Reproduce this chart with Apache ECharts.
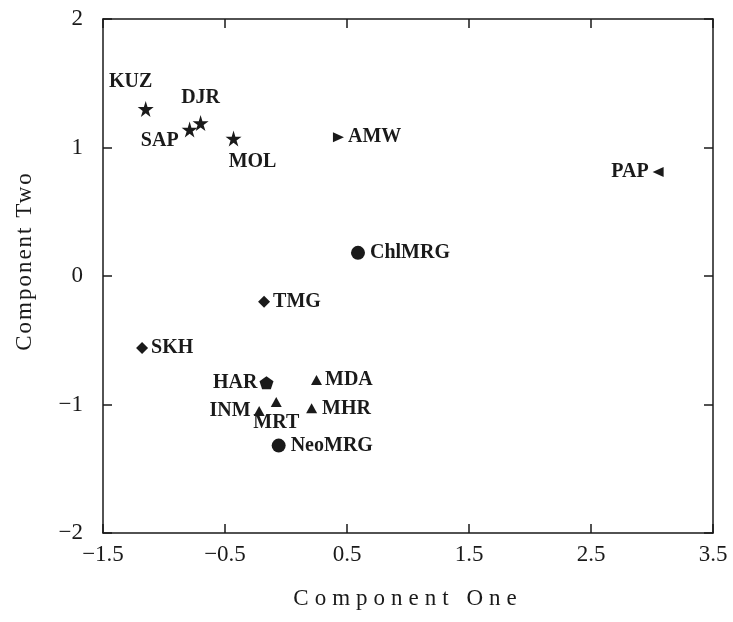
<!DOCTYPE html>
<html>
<head>
<meta charset="utf-8">
<script src="https://cdn.jsdelivr.net/npm/echarts@6/dist/echarts.min.js"></script>
<style>html,body{margin:0;padding:0;background:#fff}#c{width:733px;height:622px}</style>
</head>
<body>
<div id="c"></div>
<script>
// ---- data ----
var names  = ['KUZ','DJR','SAP','MOL','AMW','PAP','ChlMRG','TMG','SKH','HAR','MDA','INM','MRT','MHR','NeoMRG'];
var compOne = [-1.15,-0.70,-0.79,-0.43,0.43,3.05,0.59,-0.18,-1.18,-0.16,0.25,-0.22,-0.08,0.21,-0.06];
var compTwo = [1.30,1.19,1.14,1.07,1.08,0.81,0.18,-0.20,-0.56,-0.83,-0.81,-1.05,-0.98,-1.03,-1.32];
var groups  = ['star','star','star','star','triR','triL','circle','diamond','diamond','pentagon','triU','triU','triU','triU','circle'];
var xTicks = [-1.5,-0.5,0.5,1.5,2.5,3.5];
var yTicks = [-2,-1,0,1,2];
var xTitle = 'Component One';
var yTitle = 'Component Two';

// ---- styling: letter-spaced axis titles (spacing applied to canvas text drawing) ----
var spacing = {};
spacing[xTitle] = '6px';
spacing[yTitle] = '2px';
(function(){
  var P = CanvasRenderingContext2D.prototype, orig = P.fillText;
  P.fillText = function(t){
    var sp = Object.prototype.hasOwnProperty.call(spacing, t) ? spacing[t] : null;
    if (sp && 'letterSpacing' in this){
      this.save();
      this.letterSpacing = sp;
      var r = orig.apply(this, arguments);
      this.restore();
      return r;
    }
    return orig.apply(this, arguments);
  };
})();

var shapes = {
  star: {symbol:'path://M50,0 L61,35 L98,35 L68,57 L79,91 L50,70 L21,91 L32,57 L2,35 L39,35 Z', size:[16,16]},
  triR: {symbol:'path://M0,0 L100,50 L0,100 Z', size:[11,10]},
  triL: {symbol:'path://M100,0 L0,50 L100,100 Z', size:[11,10]},
  circle: {symbol:'circle', size:14},
  diamond: {symbol:'path://M50,0 L100,50 L50,100 L0,50 Z', size:[12,12]},
  pentagon: {symbol:'path://M50,0 L98,37 L80,95 L20,95 L2,37 Z', size:[14,13]},
  triU: {symbol:'path://M50,0 L100,100 L0,100 Z', size:[11,10]}
};
var labelPos = {
  KUZ:{position:'top',offset:[-15,-4]},
  DJR:{position:'top',offset:[0,-2]},
  SAP:{position:'left',offset:[2,11]},
  MOL:{position:'bottom',offset:[19,0]},
  AMW:{position:'right',distance:4},
  PAP:{position:'left',distance:4},
  ChlMRG:{position:'right',distance:5},
  TMG:{position:'right',distance:3},
  SKH:{position:'right',distance:3},
  HAR:{position:'left',distance:2},
  MDA:{position:'right',distance:3},
  INM:{position:'left',distance:3},
  MRT:{position:'bottom',distance:6},
  MHR:{position:'right',distance:5},
  NeoMRG:{position:'right',distance:5}
};
var ink = '#1a1a1a';
var serif = '"Liberation Serif","DejaVu Serif",serif';

var order = ['star','triR','triL','circle','diamond','pentagon','triU'];
var series = order.map(function(g){
  var d = [];
  for (var i=0;i<names.length;i++){
    if (groups[i]!==g) continue;
    var lp = labelPos[names[i]];
    d.push({name:names[i], value:[compOne[i],compTwo[i]],
      label:Object.assign({show:true, formatter:'{b}'}, lp)});
  }
  return {
    type:'scatter', name:g, data:d,
    symbol:shapes[g].symbol, symbolSize:shapes[g].size,
    itemStyle:{color:ink, opacity:1},
    label:{color:ink, fontFamily:serif, fontWeight:'bold', fontSize:20},
    emphasis:{disabled:true}, animation:false
  };
});

function fmt(v){ return String(v).replace('-', '\u2212'); }
var lineStyle = {color:ink, width:1.5};

var chart = echarts.init(document.getElementById('c'), null, {renderer:'canvas'});
chart.setOption({
  backgroundColor:'#fff',
  animation:false,
  grid:{left:103, right:20, top:19, bottom:89, show:false},
  xAxis:[{
    type:'value', min:-1.5, max:3.5, position:'bottom',
    name:xTitle, nameLocation:'middle', nameGap:54,
    nameTextStyle:{fontFamily:serif, fontSize:23, color:ink},
    axisLine:{show:true, onZero:false, lineStyle:lineStyle},
    axisTick:{show:true, inside:true, length:9, customValues:xTicks, lineStyle:lineStyle},
    axisLabel:{customValues:xTicks, formatter:fmt, fontFamily:serif, fontSize:23, color:ink, margin:10},
    splitLine:{show:false}
  },{
    type:'value', min:-1.5, max:3.5, position:'top',
    axisLine:{show:true, onZero:false, lineStyle:lineStyle},
    axisTick:{show:true, inside:true, length:9, customValues:xTicks, lineStyle:lineStyle},
    axisLabel:{show:false}, splitLine:{show:false}
  }],
  yAxis:[{
    type:'value', min:-2, max:2, interval:1, position:'left',
    name:yTitle, nameLocation:'middle', nameGap:67, nameRotate:90,
    nameTextStyle:{fontFamily:serif, fontSize:23, color:ink, padding:[0,0,0,30]},
    axisLine:{show:true, onZero:false, lineStyle:lineStyle},
    axisTick:{show:true, inside:true, length:9, lineStyle:lineStyle},
    axisLabel:{formatter:fmt, fontFamily:serif, fontSize:23, color:ink, margin:20},
    splitLine:{show:false}
  },{
    type:'value', min:-2, max:2, interval:1, position:'right',
    axisLine:{show:true, onZero:false, lineStyle:lineStyle},
    axisTick:{show:true, inside:true, length:9, lineStyle:lineStyle},
    axisLabel:{show:false}, splitLine:{show:false}
  }],
  series:series
});
</script>
</body>
</html>
